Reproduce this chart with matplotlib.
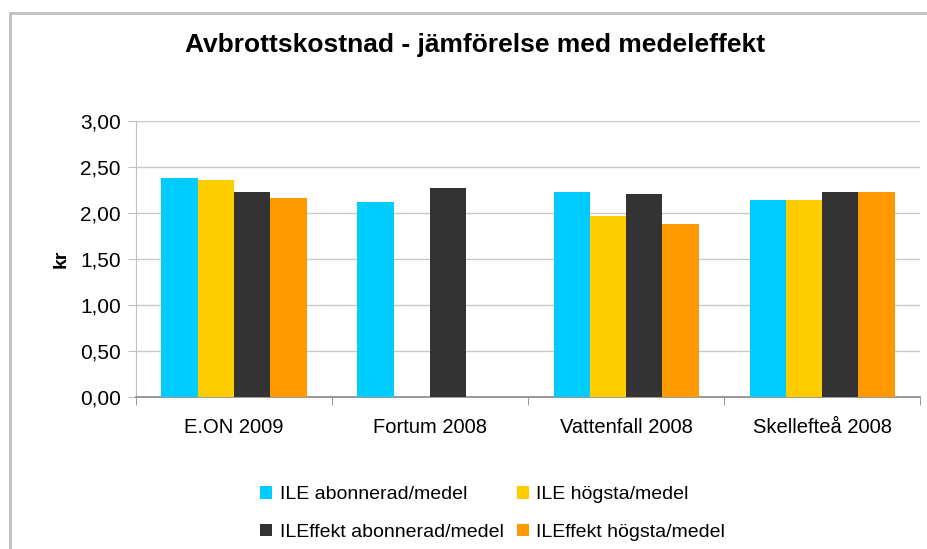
import numpy as np
import matplotlib.pyplot as plt
from matplotlib.lines import Line2D

categories = ['E.ON 2009', 'Fortum 2008', 'Vattenfall 2008', 'Skellefteå 2008']
series = ['ILE abonnerad/medel', 'ILE högsta/medel',
          'ILEffekt abonnerad/medel', 'ILEffekt högsta/medel']
ile_abonnerad = [2.38, 2.12, 2.23, 2.14]
ile_hogsta = [2.36, np.nan, 1.97, 2.14]
ileffekt_abonnerad = [2.23, 2.27, 2.21, 2.23]
ileffekt_hogsta = [2.16, np.nan, 1.88, 2.23]
colors = ['#00CCFF', '#FFCC00', '#333333', '#FF9900']
y_ticks = [0.0, 0.5, 1.0, 1.5, 2.0, 2.5, 3.0]

plt.rcParams['font.family'] = ['Liberation Sans', 'DejaVu Sans']

fig = plt.figure(figsize=(9.27, 5.49), dpi=100)
ax = fig.add_axes([0.1467, 0.2769, 0.9925 - 0.1467, 0.7796 - 0.2769])

x = np.arange(len(categories))
w = 0.185
values = [ile_abonnerad, ile_hogsta, ileffekt_abonnerad, ileffekt_hogsta]
bars = []
for i, (vals, name, c) in enumerate(zip(values, series, colors)):
    b = ax.bar(x + (i - 1.5) * w, vals, width=w, color=c, label=name, zorder=3)
    bars.append(b)

ax.set_xlim(-0.5, len(categories) - 0.5)
ax.set_ylim(0, 3.0)
ax.set_yticks(y_ticks)
ax.set_yticklabels([f'{v:.2f}'.replace('.', ',') for v in y_ticks], fontsize=15)
ax.yaxis.grid(True, color='#c8c8c8', linewidth=1, zorder=0)

ax.set_xticks(x)
ax.set_xticklabels(categories, fontsize=14.5)
ax.set_xticks(np.arange(len(categories) + 1) - 0.5, minor=True)
ax.tick_params(axis='x', which='major', length=0, pad=15)
ax.tick_params(axis='x', which='minor', length=6, color='#888888', direction='out')
ax.tick_params(axis='y', length=6, color='#c0c0c0', direction='out', pad=5)

for side in ['top', 'right']:
    ax.spines[side].set_visible(False)
ax.spines['left'].set_color('#c0c0c0')
ax.spines['bottom'].set_color('#888888')
ax.spines['bottom'].set_linewidth(1.2)

ax.set_ylabel('kr', fontsize=14, fontweight='bold', labelpad=7)
fig.text(0.512, 0.918, 'Avbrottskostnad - jämförelse med medeleffekt',
         ha='center', va='center', fontsize=19, fontweight='bold')

# legend filled row by row like the original
order = [0, 2, 1, 3]
ax.legend([bars[i] for i in order], [series[i] for i in order],
          loc='center', bbox_to_anchor=(0.455, -0.422), ncol=2,
          frameon=False, fontsize=14, handlelength=0.62, handleheight=0.62,
          handletextpad=0.4, columnspacing=0.65, labelspacing=1.05,
          borderpad=0)

fig.add_artist(Line2D([0.0108, 0.0108], [0, 0.976], color='#c0c0c0', linewidth=2))
fig.add_artist(Line2D([0.0108, 1.0], [0.976, 0.976], color='#c0c0c0', linewidth=2))

fig.savefig('out.png', dpi=100)
